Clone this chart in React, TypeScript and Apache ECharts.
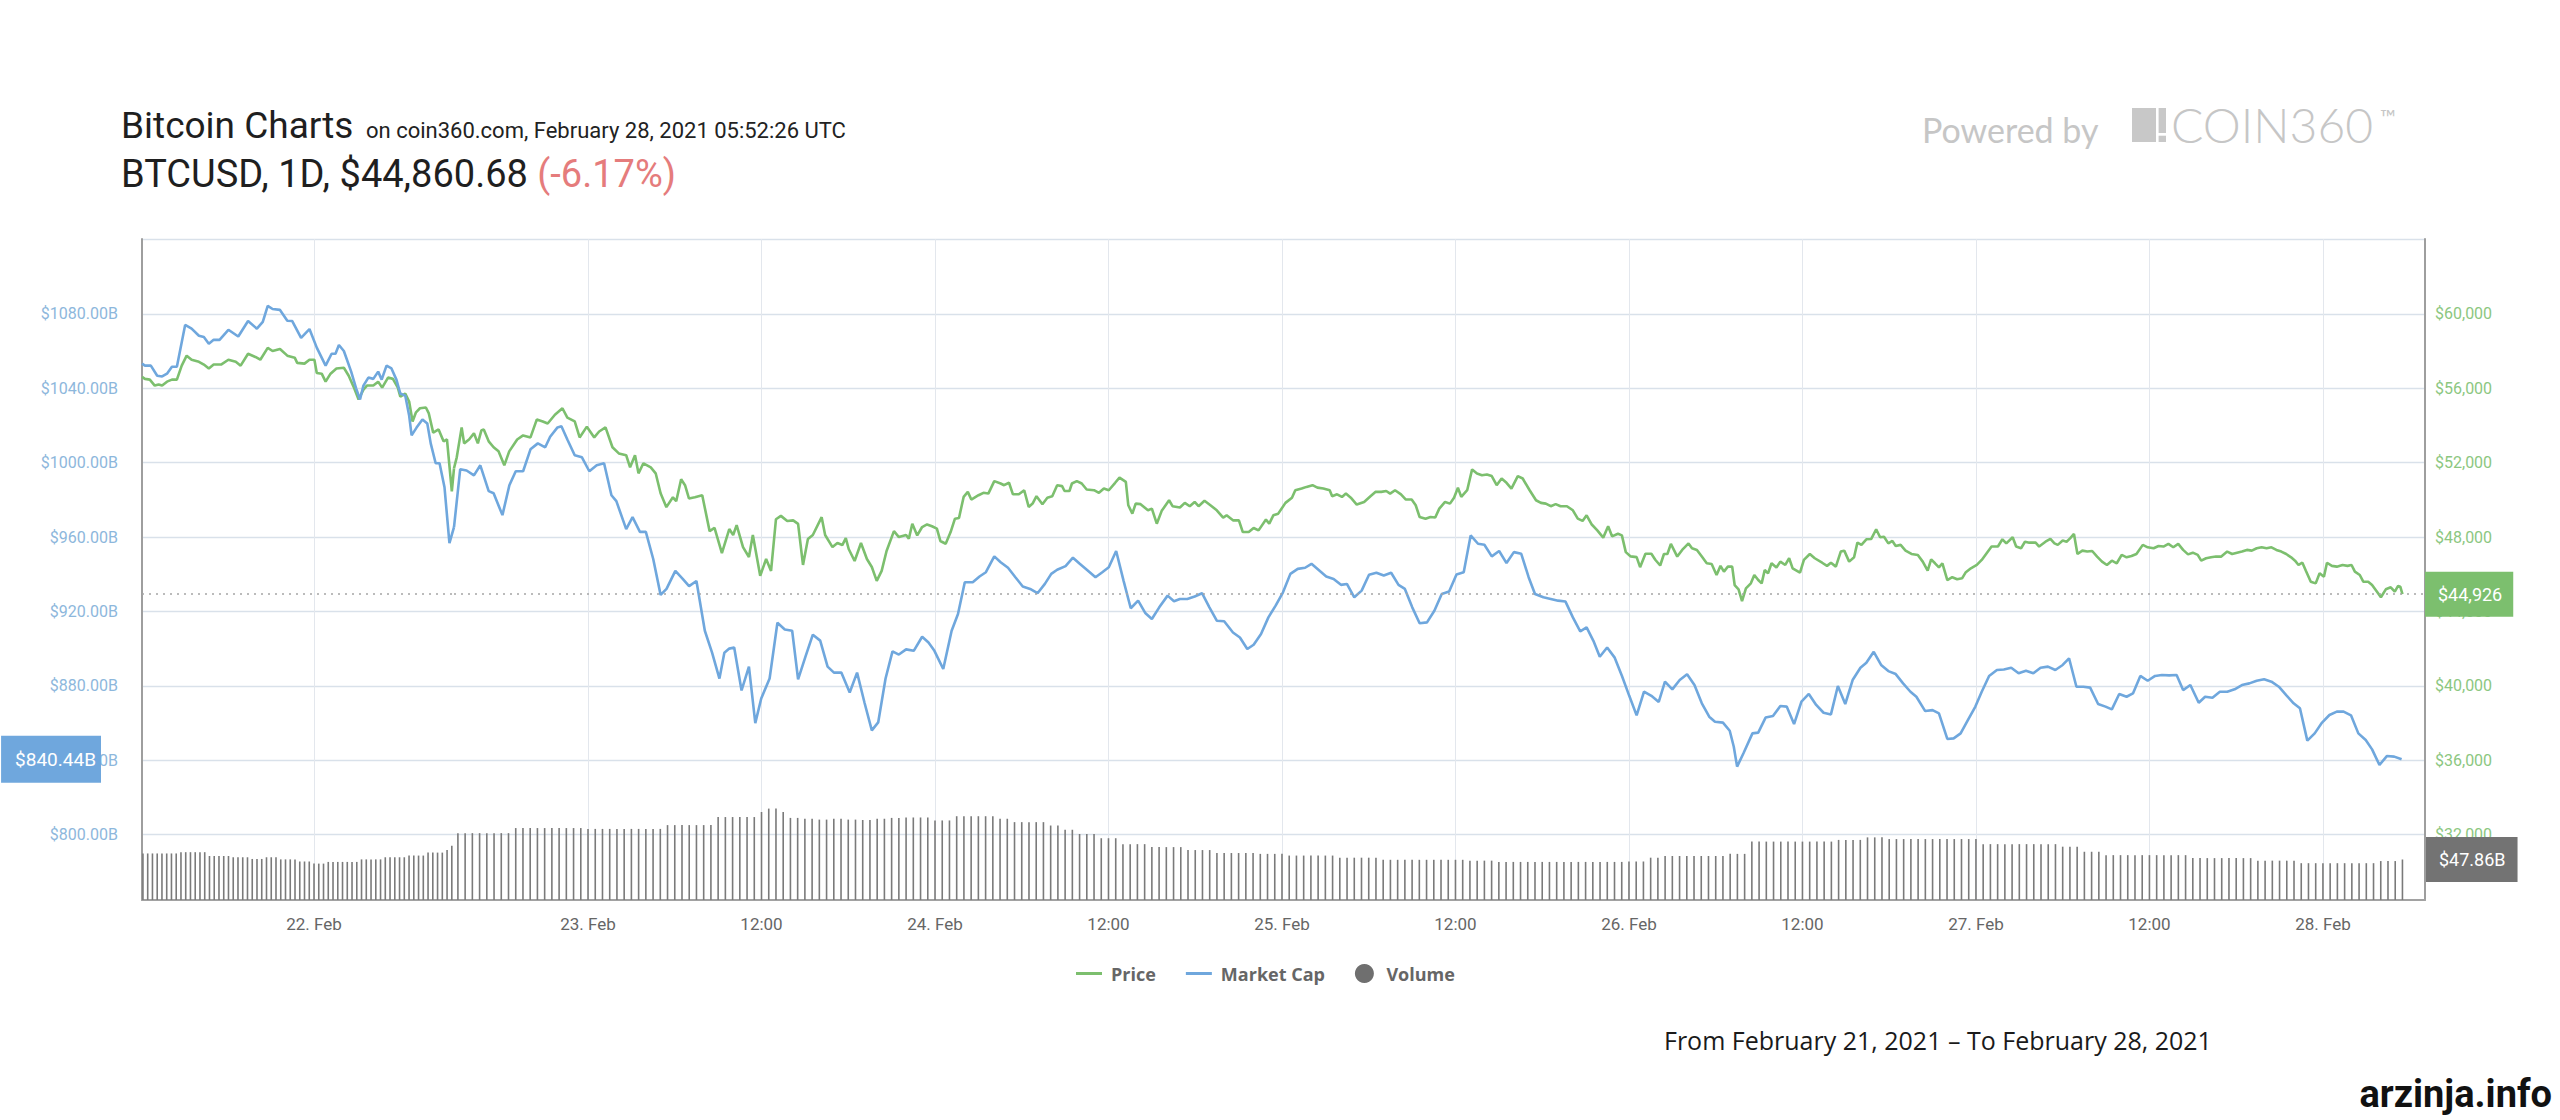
import React, { useEffect, useRef } from "react";
import * as echarts from "echarts";

// ---- time axis (hours since 2021-02-21 00:00 UTC) ----
// The source chart draws the first part (until Feb 22 ~14:44) on a compressed scale,
// so the plot is split into two adjoining grids.
const X_START = 5.9;
const BREAK_HOUR = 38.73;
const X_END = 175.06;
const dayTicksLeft = [24];
const dayTicksRight = [48, 60, 72, 84, 96, 108, 120, 132, 144, 156, 168];

// ---- value axes ----
const CAP_MIN = 764.77;
const CAP_MAX = 1120.34;
const PRICE_MIN = 28477;
const PRICE_MAX = 64034;
const VOL_MAX = 781;
const capTicks = [800, 840, 880, 920, 960, 1000, 1040, 1080];
const capGridValues = [800, 840, 880, 920, 960, 1000, 1040, 1080, 1120];
const priceTicks = [32000, 36000, 40000, 44000, 48000, 52000, 56000, 60000];

const LAST_PRICE = 44926;
const LAST_CAP = 840.44;
const LAST_VOLUME = 47.86;

// ---- Market Cap ($B) [hour, value] ----
const marketCapPoints = [
  [5.9,1053.3],[6.21,1052.2],[6.83,1052.2],[7.5,1046.8],[8.02,1046.4],[8.53,1047.9],[9.05,1051.6],[9.57,1051.6],[10.44,1074.1],[11.12,1072.1],[11.89,1068.3],[12.41,1067.6],[12.93,1064.0],[13.44,1066.1],[14.06,1066.1],[14.99,1071.5],[16.03,1067.9],[17.06,1076.2],[17.99,1072.1],[18.61,1075.8],[19.13,1084.4],[19.64,1082.7],[20.42,1082.2],[21.19,1076.4],[21.71,1076.2],[22.64,1067.2],[23.52,1071.9],[24.29,1061.9],[25.22,1052.2],[25.85,1058.6],[26.26,1058.6],[26.62,1063.3],[27.14,1060.1],[27.91,1049.0],[28.43,1040.0],[28.84,1034.0],[29.2,1041.5],[29.72,1045.8],[30.24,1045.1],[30.75,1049.0],[31.12,1044.7],[31.63,1052.2],[32.15,1050.7],[32.67,1044.7],[33.08,1037.2],[33.6,1036.1],[34.01,1025.4],[34.27,1014.7],[34.79,1018.9],[35.41,1023.3],[35.92,1021.1],[36.28,1010.4],[36.8,999.7],[37.21,999.7],[37.73,986.8],[38.25,956.8],[38.73,965.4],
  [39.16,996.5],[39.6,995.8],[40.11,993.2],[40.55,998.6],[41.13,984.7],[41.47,983.6],[42.08,971.8],[42.56,987.9],[43.0,995.4],[43.51,995.4],[44.02,1007.2],[44.53,1010.4],[45.04,1008.3],[45.38,1014.0],[45.89,1019.0],[46.16,1019.6],[46.57,1012.5],[47.08,1004.0],[47.58,1002.9],[48.09,995.4],[48.6,998.6],[49.11,999.7],[49.62,982.5],[49.96,979.3],[50.64,964.3],[51.08,970.7],[51.59,962.8],[52.0,962.8],[52.51,948.2],[53.02,928.9],[53.43,932.1],[54.04,941.8],[54.55,937.5],[54.99,933.6],[55.5,936.4],[56.08,909.6],[56.58,897.8],[57.09,883.9],[57.43,897.8],[57.77,900.0],[58.11,900.6],[58.62,877.5],[59.13,890.3],[59.57,859.9],[59.98,873.2],[60.56,883.9],[61.1,913.9],[61.61,910.3],[62.12,909.6],[62.53,883.5],[63.04,895.7],[63.55,907.5],[64.06,904.3],[64.57,890.3],[65.01,887.1],[65.52,887.1],[66.1,876.4],[66.61,887.1],[67.12,871.0],[67.63,856.0],[68.07,860.3],[68.58,883.9],[69.06,898.5],[69.5,896.8],[70.0,899.6],
  [70.53,898.8],[71.11,906.4],[71.55,903.3],[71.96,898.8],[72.57,889.0],[73.15,909.6],[73.59,918.6],[74.06,935.7],[74.61,935.7],[75.08,938.8],[75.52,941.1],[76.1,949.6],[76.54,946.5],[77.05,943.5],[77.56,938.4],[78.07,933.4],[78.58,932.1],[79.09,929.8],[79.6,934.8],[80.04,940.2],[80.45,942.4],[81.03,944.4],[81.54,948.9],[82.01,945.6],[82.56,942.0],[83.1,938.4],[83.57,941.1],[84.02,943.8],[84.53,952.5],[85.04,936.6],[85.54,921.7],[86.05,925.8],[86.56,919.0],[87.0,915.9],[87.51,922.2],[88.09,928.5],[88.53,925.5],[88.94,926.7],[89.45,926.7],[89.96,928.0],[90.47,929.8],[90.98,922.2],[91.49,915.0],[92.0,914.7],[92.61,908.7],[93.09,906.0],[93.6,899.8],[94.04,902.1],[94.55,907.9],[95.06,916.8],[95.56,923.1],[96.07,930.3],[96.58,940.2],[97.09,942.9],[97.6,943.5],[98.04,945.6],[98.52,942.4],[99.06,938.8],[99.57,937.5],[100.08,934.3],[100.49,934.8],[101.0,927.6],[101.51,931.2],[102.02,939.7],[102.53,940.8],[103.04,939.3],[103.55,940.8],[104.06,934.3],[104.5,932.1],[105.01,922.2],[105.52,913.6],[106.03,914.1],[106.54,920.4],[107.05,929.4],[107.56,930.7],[108.07,939.9],[108.57,941.1],[109.05,960.9],[109.56,956.4],[110.0,955.9],[110.51,949.6],[111.02,952.5],[111.53,946.0],[112.04,951.9],[112.55,951.0],[113.06,938.4],[113.5,929.4],[114.08,927.6],[114.59,926.7],[115.1,925.8],[115.61,925.3],[116.12,916.8],[116.63,909.3],[117.07,911.4],[117.54,904.2],[117.98,895.6],[118.49,900.6],[119.0,895.3],[119.51,885.4],[120.02,874.6],[120.53,864.1],[121.04,876.9],[121.55,874.6],[122.06,871.3],
  [122.49,882.2],[123.0,878.1],[123.51,883.1],[124.02,886.2],[124.53,880.4],[125.04,870.6],[125.55,863.4],[125.95,860.7],[126.5,860.2],[126.97,855.8],[127.25,847.2],[127.48,836.5],[127.92,843.7],[128.54,854.4],[128.94,854.8],[129.45,862.9],[129.96,863.7],[130.47,869.1],[130.91,868.8],[131.42,859.4],[131.93,871.5],[132.44,875.6],[132.95,869.7],[133.46,865.5],[133.97,864.6],[134.45,879.9],[134.96,870.2],[135.47,883.1],[136.01,889.7],[136.42,892.4],[136.93,898.3],[137.44,891.2],[137.94,887.9],[138.45,886.3],[138.96,881.3],[139.47,876.8],[139.88,874.1],[140.49,866.4],[141.0,866.9],[141.44,865.2],[142.02,851.4],[142.46,851.7],[142.94,854.4],[143.45,861.6],[143.96,868.8],[144.4,876.8],[144.91,885.3],[145.45,888.5],[145.93,888.8],[146.44,889.7],[146.95,886.7],[147.46,888.1],[147.97,886.7],[148.47,889.7],[148.98,890.3],[149.49,888.5],[150.0,891.2],[150.44,894.8],[150.95,879.5],[151.43,879.5],[151.9,879.0],[152.45,870.2],[152.96,868.8],[153.4,867.3],[153.91,875.6],[154.42,874.1],[154.86,875.9],[155.37,885.3],[155.88,882.7],[156.39,885.3],[156.86,885.8],[157.37,885.6],[157.88,885.8],[158.33,877.7],[158.83,880.4],[159.41,870.9],[159.85,874.1],[160.36,873.6],[160.87,876.8],[161.38,876.8],[161.89,878.1],[162.4,880.4],[162.91,881.3],[163.42,882.7],[163.93,883.5],[164.44,882.2],[164.95,879.5],[165.46,875.0],[165.97,870.6],[166.41,867.9],[166.92,850.5],[167.43,854.4],[167.94,860.2],[168.45,864.3],[168.96,866.1],[169.43,866.1],[169.94,864.1],[170.45,854.4],[170.96,850.8],[171.4,845.8],[171.91,837.4],[172.42,842.2],[172.93,841.9],[173.44,840.44],
];

// ---- Price (USD) [hour, value] ----
const pricePoints = [
  [5.9,56620],[6.21,56510],[6.72,56470],[7.24,56150],[7.65,56210],[8.02,56150],[8.53,56360],[9.05,56470],[9.57,56470],[10.08,57220],[10.6,57760],[11.12,57540],[11.89,57430],[12.41,57280],[12.93,57070],[13.44,57280],[14.22,57280],[14.99,57540],[15.77,57430],[16.28,57220],[17.06,57860],[17.83,57690],[18.35,57540],[19.13,58180],[19.64,58010],[20.42,58120],[21.19,57760],[21.97,57650],[22.23,57370],[23.0,57330],[23.52,57540],[24.04,57540],[24.29,56830],[24.81,56790],[25.22,56360],[25.74,56790],[26.36,57070],[27.14,57110],[27.65,56680],[28.17,56080],[28.69,55400],[29.2,55930],[29.57,56150],[30.24,56150],[30.75,56360],[31.17,56040],[31.79,56580],[32.3,56510],[32.82,56040],[33.08,55550],[33.6,55720],[34.01,55290],[34.37,54220],[34.73,54710],[35.15,54930],[35.77,54970],[36.08,54650],[36.54,53620],[37.11,53790],[37.63,53150],[37.99,53250],[38.5,50460],[38.73,51700],
  [38.92,52290],[39.26,53900],[39.43,53040],[39.77,53250],[40.11,53580],[40.38,53040],[40.62,53730],[40.79,53790],[41.13,53150],[41.47,52830],[41.81,52610],[42.21,51860],[42.55,52610],[43.1,53250],[43.51,53470],[44.02,53360],[44.46,54330],[44.87,54220],[45.21,54110],[45.71,54580],[46.23,54930],[46.57,54430],[47.08,54220],[47.42,53360],[47.92,53940],[48.43,53360],[48.77,53680],[49.21,53900],[49.69,52830],[50.13,52500],[50.64,52400],[50.91,51750],[51.25,52400],[51.49,51430],[51.83,51970],[52.34,51750],[52.68,51430],[53.02,50360],[53.42,49610],[53.87,50140],[54.1,49930],[54.44,51110],[54.71,50790],[54.98,50080],[55.39,50140],[55.9,50250],[56.41,48320],[56.75,48490],[57.26,47140],[57.77,48430],[58.04,48110],[58.28,48640],[58.72,47460],[59.13,46930],[59.4,48110],[59.91,45920],[60.32,46820],[60.66,46180],[61.0,48960],[61.34,49140],[61.78,48860],[62.19,48900],[62.53,48710],[62.87,46500],[63.21,47890],[63.55,48110],[64.16,49070],[64.4,48110],[64.91,47460],[65.25,47680],[65.59,47570],[65.83,47940],[66.03,47360],[66.44,46710],[66.88,47680],[67.29,46820],[67.63,46390],[67.97,45640],[68.31,46180],[68.65,47250],[69.16,48320],[69.5,48000],[70.0,48110],
  [70.19,47910],[70.43,48720],[70.77,48090],[71.11,48540],[71.45,48680],[71.79,48580],[72.13,48450],[72.37,47790],[72.74,47640],[73.08,48270],[73.38,48990],[73.66,49030],[73.98,50160],[74.27,50430],[74.51,50020],[75.01,50250],[75.35,50380],[75.69,50340],[76.1,51010],[76.54,50880],[76.78,50790],[77.12,50920],[77.39,50300],[77.8,50300],[78.17,50520],[78.48,49620],[78.75,49800],[79.02,50200],[79.43,49770],[79.77,50120],[80.11,50200],[80.45,50790],[80.79,50740],[80.96,50480],[81.3,50480],[81.47,50880],[81.81,51010],[82.15,50880],[82.49,50560],[83.0,50520],[83.34,50380],[83.68,50610],[84.02,50520],[84.46,50920],[84.76,51200],[85.2,50970],[85.37,49710],[85.65,49260],[85.88,49800],[86.22,49770],[86.73,49440],[87.0,49530],[87.34,48720],[87.68,49410],[88.19,49980],[88.43,49660],[88.94,49590],[89.28,49840],[89.62,49660],[89.96,49890],[90.23,49660],[90.64,49950],[91.05,49710],[91.49,49440],[91.93,49050],[92.17,49170],[92.61,48900],[93.02,48900],[93.29,48270],[93.7,48270],[94.04,48490],[94.38,48360],[94.89,48940],[95.12,48720],[95.4,49170],[95.74,49260],[96.24,49840],[96.69,50120],[96.92,50520],[97.36,50610],[97.7,50700],[98.11,50790],[98.45,50660],[98.86,50610],[99.3,50520],[99.47,50200],[99.81,50300],[100.15,50160],[100.42,50340],[100.76,50120],[101.17,49750],[101.68,49890],[102.12,50200],[102.46,50430],[102.87,50430],[103.21,50480],[103.48,50340],[103.82,50520],[104.23,50300],[104.57,50020],[104.97,50020],[105.25,49710],[105.52,49080],[105.93,48990],[106.27,49080],[106.6,49050],[106.88,49530],[107.28,49890],[107.62,49800],[107.9,50120],[108.17,50650],[108.4,50160],[108.81,50520],[109.15,51640],[109.49,51420],[109.83,51330],[110.17,51370],[110.51,51280],[110.85,50790],[111.19,51150],[111.53,50920],[111.87,50610],[112.31,51280],[112.65,51150],[113.13,50520],[113.57,49980],[113.91,49840],[114.25,49800],[114.59,49660],[114.93,49770],[115.27,49660],[115.71,49660],[116.12,49440],[116.46,48990],[116.79,48870],[117.07,49170],[117.41,48690],[117.81,48360],[118.22,47970],[118.56,48580],[118.83,48040],[119.24,48180],[119.51,48090],[119.78,47190],[120.12,46960],[120.53,46920],[120.77,46380],[121.14,47100],[121.55,47100],[121.82,46780],[122.16,46470],
  [122.42,47090],[122.66,47090],[122.9,47630],[123.34,46950],[123.68,47310],[124.12,47660],[124.36,47400],[124.7,47310],[125.04,46950],[125.38,46590],[125.72,46550],[126.06,45960],[126.33,46450],[126.57,46140],[126.84,46410],[127.14,46410],[127.31,45420],[127.58,45190],[127.82,44560],[128.09,45240],[128.43,45510],[128.67,45960],[128.94,45690],[129.18,45510],[129.39,46230],[129.62,46050],[129.86,46590],[130.2,46360],[130.47,46680],[130.81,46500],[131.08,46860],[131.32,46320],[131.83,46090],[132.1,46770],[132.51,47090],[132.85,46860],[133.36,46620],[133.7,46450],[133.97,46620],[134.31,46410],[134.65,47220],[134.89,47270],[135.23,46680],[135.57,46910],[135.8,47700],[136.08,47580],[136.42,47880],[136.76,47900],[137.1,48420],[137.37,47990],[137.64,48020],[137.94,47660],[138.22,47790],[138.45,47520],[138.79,47580],[139.13,47270],[139.54,47090],[139.98,47040],[140.32,46680],[140.66,46190],[140.9,46800],[141.17,46590],[141.44,46370],[141.68,46590],[142.02,45690],[142.36,45840],[142.7,45730],[143.04,45780],[143.28,46090],[143.65,46320],[144.06,46500],[144.4,46770],[144.74,47130],[145.08,47490],[145.52,47490],[145.83,47880],[146.1,47660],[146.54,47990],[146.78,47490],[147.12,47400],[147.39,47750],[147.69,47700],[148.13,47700],[148.37,47490],[148.81,47750],[149.15,47900],[149.43,47660],[149.66,47580],[150.0,47810],[150.27,47750],[150.51,47930],[150.78,48170],[151.02,47090],[151.36,47270],[151.7,47220],[152.04,47250],[152.38,46950],[152.72,46680],[153.06,46500],[153.4,46730],[153.74,46590],[154.08,47040],[154.42,46910],[154.76,46980],[155.1,47090],[155.54,47580],[155.88,47450],[156.29,47400],[156.63,47520],[156.97,47490],[157.31,47630],[157.65,47450],[157.99,47630],[158.33,47310],[158.67,47070],[159.0,47160],[159.34,47040],[159.58,46730],[159.92,46860],[160.26,46910],[160.6,46950],[160.97,46950],[161.38,47220],[161.72,47090],[162.06,47160],[162.4,47220],[162.74,47310],[163.08,47270],[163.42,47400],[163.76,47450],[164.1,47400],[164.44,47450],[164.78,47310],[165.12,47220],[165.46,47090],[165.8,46910],[166.07,46730],[166.31,46500],[166.58,46620],[166.82,46190],[167.16,45600],[167.5,45510],[167.77,46050],[168.07,45870],[168.28,46620],[168.62,46450],[168.96,46410],[169.36,46500],[169.7,46450],[169.98,46500],[170.21,46140],[170.55,45960],[170.79,45600],[171.13,45600],[171.4,45420],[171.74,45060],[172.01,44760],[172.35,45190],[172.69,45300],[172.97,45060],[173.2,45370],[173.35,45330],[173.5,44926],
];

// ---- Volume ($B), one bar every 30 minutes from Feb 21 06:00 ----
const VOLUME_FIRST_HOUR = 6;
const VOLUME_STEP_HOURS = 0.5;
const volumeValues = [
  55,55,55,55,55,55,55,55,
  56.5,56.5,56.5,56.5,56.5,56.5,
  52,52,52,52,52,
  50.5,50.5,50.5,50.5,
  48.5,48.5,48.5,
  50.5,50.5,50.5,
  48,48,48,48,
  45.5,45.5,45.5,
  43,43,43,
  45,45,45,45,45,45,45,
  48,48,48,48,48,
  50.5,50.5,50.5,50.5,50.5,
  52.5,52.5,52.5,52.5,
  56,56,56,56,
  59,64,
  79,79,79,79,79,79,79,79,
  85,85,85,85,85,85,85,85,85,85,
  84,84,84,84,84,84,84,84,84,84,84,
  88.5,88.5,88.5,88.5,88.5,88.5,88.5,
  98,98,98,98,98,98,
  104,108,108,104,
  97,97,96,96,95,95,96,96,95,95,94.5,94.5,96,96,97,97,
  97.5,97.5,97.5,97.5,
  94,94,94,
  99,99,99,99,99,99,
  96,96,
  92,92,92,92,92,
  88,88,
  83,83,
  78,78,78,
  73,73,73,
  66,66,66,66,
  62.5,62.5,62.5,62.5,62.5,
  59,59,59,59,
  55.5,55.5,55.5,55.5,55.5,55.5,
  54.5,54.5,54.5,54.5,
  52.5,52.5,52.5,52.5,52.5,52.5,52.5,
  50,50,50,50,50,50,
  47.5,47.5,47.5,47.5,47.5,47.5,47.5,47.5,47.5,47.5,47.5,47.5,
  46.5,46.5,46.5,46.5,
  45,45,45,45,45,45,45,45,45,45,45,45,45,45,45,45,45,45,
  45.5,45.5,45.5,
  50,50,
  52,52,52,52,52,52,52,52,52,
  54.5,54.5,54.5,
  69,69,69,69,69,69,69,69,69,69,69,69,
  71,71,71,71,
  74,74,74,
  72,72,72,72,72,72,72,72,72,72,72,72,72,
  66,66,66,66,66,66,66,66,66,66,66,
  63,63,63,
  57,57,57,
  53,53,53,53,53,53,53,53,53,53,53,53,
  49.5,49.5,49.5,49.5,49.5,49.5,49.5,49.5,49.5,
  46.5,46.5,46.5,46.5,46.5,46.5,
  43.5,43.5,43.5,43.5,43.5,43.5,43.5,43.5,43.5,43.5,43.5,
  46,46,46,
  47.86,
];

const GREEN = "#7cbf6e";
const BLUE = "#6fa7dd";
const VOL_GREY = "#7a7a7a";
const FONT = "Roboto";
const CLEAR = "rgba(0,0,0,0)";

const leftPart = (pts: number[][]) => pts.filter((p) => p[0] <= BREAK_HOUR);
const rightPart = (pts: number[][]) => pts.filter((p) => p[0] >= BREAK_HOUR);

function fmtX(v: number) {
  const h = Math.round(v);
  if (h % 24 === 0) return `${21 + h / 24}. Feb`;
  return "12:00";
}

function buildOption() {
  const volumePoints = volumeValues.map((v, i) => [VOLUME_FIRST_HOUR + i * VOLUME_STEP_HOURS, v]);

  const xAxisBase = (gridIndex: number, min: number, max: number, ticks: number[]) => ({
    type: "value",
    gridIndex,
    min,
    max,
    axisLine: { show: true, onZero: false, lineStyle: { color: "#a2a2a2", width: 2 } },
    axisTick: { show: false, customValues: ticks },
    axisLabel: {
      customValues: ticks,
      formatter: fmtX,
      color: "#666666",
      fontSize: 17,
      fontFamily: FONT,
      margin: 15,
    },
    splitLine: { show: true, lineStyle: { color: "#e3e7ed", width: 1 } },
  });

  const capSplit = { show: true, lineStyle: { color: "#d9e1ea", width: 1.3 } };

  const dotted = (withLabel: boolean) => ({
    silent: true,
    symbol: ["none", "none"],
    lineStyle: { color: "#a5a5a5", type: [2, 5], width: 1.5 },
    label: withLabel
      ? {
          show: true,
          position: "end",
          distance: 0,
          formatter: "$" + LAST_PRICE.toLocaleString("en-US"),
          color: "#ffffff",
          backgroundColor: GREEN,
          padding: [11, 11, 11, 13],
          fontSize: 18,
          lineHeight: 23,
          fontFamily: FONT,
        }
      : { show: false },
    emphasis: { disabled: true },
    data: [{ yAxis: LAST_PRICE }],
  });

  const textStyle = (extra: any) => ({
    textAlign: "left",
    align: "left",
    textVerticalAlign: "middle",
    verticalAlign: "middle",
    ...extra,
  });

  return {
    animation: false,
    backgroundColor: "#ffffff",
    grid: [
      { left: 142, top: 239, width: 312, height: 661 },
      { left: 454, top: 239, width: 1971, height: 661 },
    ],
    legend: {
      left: 1071,
      top: 959,
      itemWidth: 26,
      itemHeight: 19,
      itemGap: 30,
      selectedMode: false,
      textStyle: { fontFamily: "Open Sans", fontWeight: "bold", fontSize: 18, color: "#666666", padding: [0, 0, 0, 4] },
      data: [
        { name: "Price", icon: "path://M0,0M26,19M0,8L26,8L26,11L0,11Z" },
        { name: "Market Cap", icon: "path://M0,0M26,19M0,8L26,8L26,11L0,11Z" },
        { name: "Volume", icon: "circle", itemStyle: { color: "#6f6f6f" } },
      ],
    },
    xAxis: [
      xAxisBase(0, X_START, BREAK_HOUR, dayTicksLeft),
      xAxisBase(1, BREAK_HOUR, X_END, dayTicksRight),
    ],
    yAxis: [
      {
        type: "value",
        gridIndex: 0,
        position: "left",
        min: CAP_MIN,
        max: CAP_MAX,
        axisLine: { show: true, onZero: false, lineStyle: { color: "#9e9e9e", width: 2 } },
        axisTick: { show: false, customValues: capGridValues },
        axisLabel: {
          customValues: capTicks,
          formatter: (v: number) => `$${v}.00B`,
          color: "#8db7dc",
          fontSize: 16,
          fontFamily: FONT,
          margin: 24,
        },
        splitLine: capSplit,
      },
      { type: "value", gridIndex: 0, position: "right", min: PRICE_MIN, max: PRICE_MAX, show: false, splitLine: { show: false } },
      { type: "value", gridIndex: 0, position: "right", min: 0, max: VOL_MAX, show: false, splitLine: { show: false } },
      {
        type: "value",
        gridIndex: 1,
        position: "left",
        min: CAP_MIN,
        max: CAP_MAX,
        axisLine: { show: false },
        axisTick: { show: false, customValues: capGridValues },
        axisLabel: { show: false, customValues: capTicks },
        splitLine: capSplit,
      },
      {
        type: "value",
        gridIndex: 1,
        position: "right",
        min: PRICE_MIN,
        max: PRICE_MAX,
        axisLine: { show: true, onZero: false, lineStyle: { color: "#9e9e9e", width: 2 } },
        axisTick: { show: false, customValues: priceTicks },
        axisLabel: {
          customValues: priceTicks,
          formatter: (v: number) => "$" + v.toLocaleString("en-US"),
          color: "#8cc781",
          fontSize: 16,
          fontFamily: FONT,
          margin: 10,
        },
        splitLine: { show: false },
      },
      { type: "value", gridIndex: 1, position: "right", min: 0, max: VOL_MAX, show: false, splitLine: { show: false } },
    ],
    series: [
      {
        name: "Volume",
        type: "bar",
        xAxisIndex: 0,
        yAxisIndex: 2,
        data: leftPart(volumePoints),
        barWidth: 1.6,
        itemStyle: { color: VOL_GREY },
        emphasis: { disabled: true },
        z: 1,
      },
      {
        name: "Volume",
        type: "bar",
        xAxisIndex: 1,
        yAxisIndex: 5,
        data: rightPart(volumePoints),
        barWidth: 1.6,
        itemStyle: { color: VOL_GREY },
        emphasis: { disabled: true },
        z: 1,
        markLine: {
          silent: true,
          symbol: ["none", "none"],
          lineStyle: { color: CLEAR, width: 0 },
          label: {
            show: true,
            position: "end",
            distance: 1,
            formatter: `$${LAST_VOLUME}B`,
            color: "#ffffff",
            backgroundColor: "#737373",
            padding: [11, 12, 11, 13],
            fontSize: 18,
            lineHeight: 23,
            fontFamily: FONT,
          },
          emphasis: { disabled: true },
          data: [{ yAxis: LAST_VOLUME }],
        },
      },
      {
        name: "Price",
        type: "line",
        xAxisIndex: 0,
        yAxisIndex: 1,
        data: leftPart(pricePoints),
        symbol: "none",
        color: GREEN,
        lineStyle: { color: GREEN, width: 2.6 },
        emphasis: { disabled: true },
        z: 3,
        markLine: dotted(false),
      },
      {
        name: "Price",
        type: "line",
        xAxisIndex: 1,
        yAxisIndex: 4,
        data: rightPart(pricePoints),
        symbol: "none",
        color: GREEN,
        lineStyle: { color: GREEN, width: 2.6 },
        emphasis: { disabled: true },
        z: 3,
        markLine: dotted(true),
      },
      {
        name: "Market Cap",
        type: "line",
        xAxisIndex: 0,
        yAxisIndex: 0,
        data: leftPart(marketCapPoints),
        symbol: "none",
        color: BLUE,
        lineStyle: { color: BLUE, width: 2.6 },
        emphasis: { disabled: true },
        z: 4,
        markLine: {
          silent: true,
          symbol: ["none", "none"],
          lineStyle: { color: CLEAR, width: 0 },
          label: {
            show: true,
            position: "start",
            distance: 41,
            formatter: `$${LAST_CAP}B`,
            color: "#ffffff",
            backgroundColor: BLUE,
            padding: [12, 5, 12, 14],
            fontSize: 19,
            lineHeight: 23,
            fontFamily: FONT,
          },
          emphasis: { disabled: true },
          data: [{ yAxis: LAST_CAP }],
        },
      },
      {
        name: "Market Cap",
        type: "line",
        xAxisIndex: 1,
        yAxisIndex: 3,
        data: rightPart(marketCapPoints),
        symbol: "none",
        color: BLUE,
        lineStyle: { color: BLUE, width: 2.6 },
        emphasis: { disabled: true },
        z: 4,
      },
    ],
    graphic: [
      {
        type: "text",
        x: 121,
        y: 125,
        style: textStyle({ text: "Bitcoin Charts", fontSize: 37, fontFamily: FONT, fill: "#1f1f1f" }),
      },
      {
        type: "text",
        x: 366,
        y: 130,
        style: textStyle({
          text: "on coin360.com, February 28, 2021 05:52:26 UTC",
          fontSize: 22,
          fontFamily: FONT,
          fill: "#222222",
        }),
      },
      {
        type: "text",
        x: 121,
        y: 174,
        style: textStyle({
          text: "{a|BTCUSD, 1D, $44,860.68 }{b|(-6.17%)}",
          fontSize: 38,
          fontFamily: FONT,
          fill: "#1f1f1f",
          rich: {
            a: { fontSize: 38, fontFamily: FONT, fill: "#1f1f1f", color: "#1f1f1f" },
            b: { fontSize: 38, fontFamily: FONT, fill: "#e57c7c", color: "#e57c7c" },
          },
        }),
      },
      {
        type: "text",
        x: 1922,
        y: 129,
        style: textStyle({ text: "Powered by", fontSize: 34, fontFamily: "Lato", fill: "#c6c6c6" }),
      },
      { type: "rect", shape: { x: 2132, y: 108, width: 24, height: 34 }, style: { fill: "#c8c8c8" } },
      { type: "rect", shape: { x: 2158.6, y: 108, width: 7.4, height: 25 }, style: { fill: "#c8c8c8" } },
      { type: "rect", shape: { x: 2158.6, y: 135.7, width: 7.4, height: 6.3 }, style: { fill: "#c8c8c8" } },
      {
        type: "text",
        x: 2171,
        y: 124,
        style: textStyle({ text: "COIN360", fontSize: 48, fontWeight: 300, fontFamily: "Lato", fill: "#c6c6c6" }),
      },
      {
        type: "text",
        x: 2380,
        y: 116,
        style: textStyle({ text: "™", fontSize: 21, fontFamily: "Lato", fill: "#c6c6c6" }),
      },
      {
        type: "text",
        x: 1664,
        y: 1040,
        style: textStyle({
          text: "From February 21, 2021 – To February 28, 2021",
          fontSize: 25,
          fontFamily: "Open Sans",
          fill: "#1a1a1a",
        }),
      },
      {
        type: "text",
        x: 2552,
        y: 1094,
        style: {
          text: "arzinja.info",
          fontSize: 38,
          fontWeight: "bold",
          fontFamily: FONT,
          fill: "#111111",
          textAlign: "right",
          align: "right",
          textVerticalAlign: "middle",
          verticalAlign: "middle",
        },
      },
    ],
  };
}

export default function App() {
  const ref = useRef<HTMLDivElement>(null);
  useEffect(() => {
    if (!ref.current) return;
    const chart = echarts.init(ref.current, null, { renderer: "svg" });
    chart.setOption(buildOption() as any);
    return () => {
      chart.dispose();
    };
  }, []);
  return (
    <div
      ref={ref}
      style={{ position: "absolute", left: 0, top: 0, width: 2560, height: 1120, background: "#ffffff" }}
    />
  );
}
